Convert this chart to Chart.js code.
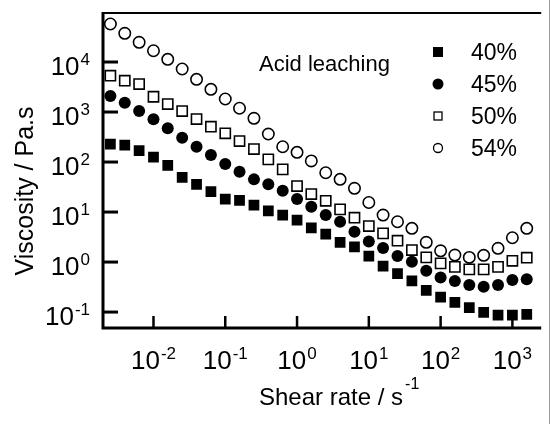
<!DOCTYPE html>
<html lang="en">
<head>
  <meta charset="UTF-8">
  <title>Viscosity vs shear rate</title>
  <script src="https://cdn.jsdelivr.net/npm/chart.js"></script>
  <style>
    html, body { margin: 0; padding: 0; background: #fff; }
    #wrap { width: 550px; height: 424px; }
  </style>
</head>
<body>
  <div id="wrap"><canvas id="viscChart" width="550" height="424"></canvas></div>
  <script>
    // shear rate, 5 points per decade (1/s)
    const shearRate = [0.00251, 0.00398, 0.00631, 0.01, 0.0158, 0.0251, 0.0398, 0.0631, 0.1, 0.158,
      0.251, 0.398, 0.631, 1, 1.58, 2.51, 3.98, 6.31, 10, 15.8,
      25.1, 39.8, 63.1, 100, 158, 251, 398, 631, 1000, 1585];

    // viscosity (Pa.s) per acid leaching level
    const visc40 = [229, 219, 170, 126, 86, 49.4, 35.8, 25.5, 18.2, 17.1,
      13.8, 10.5, 8.7, 6.9, 4.85, 3.63, 2.48, 2.02, 1.32, 0.83,
      0.59, 0.42, 0.27, 0.2, 0.156, 0.122, 0.099, 0.087, 0.087, 0.09];
    const visc45 = [2090, 1535, 1047, 714, 472, 306, 202, 138, 91, 64,
      45, 35.8, 26.7, 18.2, 12.8, 8.7, 6.4, 4.04, 2.57, 1.9,
      1.32, 1.01, 0.67, 0.49, 0.417, 0.347, 0.321, 0.347, 0.437, 0.451];
    const visc50 = [5320, 4230, 3630, 2020, 1445, 1047, 724, 508, 375, 263,
      182, 113, 71.4, 33.1, 22.9, 16.8, 11.3, 7.7, 5.25, 3.75,
      2.67, 1.74, 1.24, 0.94, 0.8, 0.715, 0.715, 0.8, 1.06, 1.22];
    const visc54 = [57500, 37500, 24800, 16800, 11300, 7240, 4500, 2840, 1820, 1190,
      748, 363, 202, 156, 105, 61, 45, 29.8, 15.5, 8.7,
      6.4, 4.72, 2.48, 1.68, 1.38, 1.24, 1.36, 1.88, 3.06, 4.72];

    const seriesLabels = ['40%', '45%', '50%', '54%'];
    const xTicks = [0.01, 0.1, 1, 10, 100, 1000];
    const yTicks = [0.1, 1, 10, 100, 1000, 10000];

    const FONT = '"Liberation Sans", Arial, sans-serif';

    function pts(ys) {
      return shearRate.map((x, i) => ({ x: x, y: ys[i] }));
    }

    // "10" with a raised exponent; align = 'right' | 'center'
    function drawPow(ctx, exp, x, y, align) {
      ctx.font = '26px ' + FONT;
      const wb = ctx.measureText('10').width;
      ctx.font = '17px ' + FONT;
      const we = ctx.measureText(exp).width;
      const total = wb + we + 1;
      let left = align === 'right' ? x - total : x - total / 2;
      ctx.textAlign = 'left';
      ctx.textBaseline = 'alphabetic';
      ctx.font = '26px ' + FONT;
      ctx.fillText('10', left, y);
      ctx.font = '17px ' + FONT;
      ctx.fillText(exp, left + wb + 1, y - 10);
    }

    const framePlugin = {
      id: 'frame',
      afterDraw(chart) {
        const ctx = chart.ctx;
        const a = chart.chartArea;
        const xs = chart.scales.x;
        const ys = chart.scales.y;
        ctx.save();
        ctx.fillStyle = '#000';
        ctx.strokeStyle = '#000';

        // top border and thin right edge
        ctx.lineWidth = 2;
        ctx.beginPath();
        ctx.moveTo(a.left, a.top);
        ctx.lineTo(a.right, a.top);
        ctx.stroke();
        ctx.strokeStyle = '#999';
        ctx.lineWidth = 1;
        ctx.beginPath();
        ctx.moveTo(549.5, 0);
        ctx.lineTo(549.5, 424);
        ctx.stroke();

        // left and bottom axes
        ctx.strokeStyle = '#000';
        ctx.lineWidth = 3;
        ctx.beginPath();
        ctx.moveTo(a.left, a.top - 1);
        ctx.lineTo(a.left, a.bottom);
        ctx.lineTo(a.right, a.bottom);
        ctx.stroke();

        // inward ticks
        ctx.lineWidth = 3;
        yTicks.forEach(v => {
          const py = ys.getPixelForValue(v);
          ctx.beginPath();
          ctx.moveTo(a.left, py);
          ctx.lineTo(a.left + 15, py);
          ctx.stroke();
          drawPow(ctx, String(Math.round(Math.log10(v))), a.left - 13, py + 13, 'right');
        });
        ctx.lineWidth = 2.5;
        xTicks.forEach(v => {
          const px = xs.getPixelForValue(v);
          ctx.beginPath();
          ctx.moveTo(px, a.bottom);
          ctx.lineTo(px, a.bottom - 12);
          ctx.stroke();
          drawPow(ctx, String(Math.round(Math.log10(v))), px, a.bottom + 41, 'center');
        });

        // axis titles
        ctx.textAlign = 'left';
        ctx.font = '24px ' + FONT;
        const t1 = 'Shear rate / s';
        ctx.fillText(t1, 259, 405);
        const w1 = ctx.measureText(t1).width;
        ctx.font = '16px ' + FONT;
        ctx.fillText('-1', 259 + w1 + 2, 389);

        ctx.save();
        ctx.translate(33, 191);
        ctx.rotate(-Math.PI / 2);
        ctx.textAlign = 'center';
        ctx.font = '25px ' + FONT;
        ctx.fillText('Viscosity / Pa.s', 0, 0);
        ctx.restore();

        // annotation
        ctx.textAlign = 'left';
        ctx.font = '22px ' + FONT;
        ctx.fillText('Acid leaching', 259, 71);

        // legend
        const rows = [52, 84, 116, 148];
        const mx = 438;
        ctx.lineWidth = 1.3;
        // 40% filled square
        ctx.fillRect(mx - 5, rows[0] - 5, 10, 10);
        // 45% filled circle
        ctx.beginPath();
        ctx.arc(mx, rows[1], 5.5, 0, Math.PI * 2);
        ctx.fill();
        // 50% open square
        ctx.strokeRect(mx - 4, rows[2] - 4, 8, 8);
        // 54% open circle
        ctx.beginPath();
        ctx.arc(mx, rows[3], 4.5, 0, Math.PI * 2);
        ctx.stroke();
        ctx.font = '23px ' + FONT;
        seriesLabels.forEach((s, i) => ctx.fillText(s, 471, rows[i] + 8));

        ctx.restore();
      }
    };

    const ctx = document.getElementById('viscChart').getContext('2d');
    new Chart(ctx, {
      type: 'scatter',
      data: {
        datasets: [
          { label: seriesLabels[0], data: pts(visc40), pointStyle: 'rect', pointRadius: 7.6,
            backgroundColor: '#000', borderColor: '#000', borderWidth: 0 },
          { label: seriesLabels[1], data: pts(visc45), pointStyle: 'circle', pointRadius: 6,
            backgroundColor: '#000', borderColor: '#000', borderWidth: 0 },
          { label: seriesLabels[2], data: pts(visc50), pointStyle: 'rect', pointRadius: 7.2,
            backgroundColor: '#fff', borderColor: '#000', borderWidth: 1.6 },
          { label: seriesLabels[3], data: pts(visc54), pointStyle: 'circle', pointRadius: 5.7,
            backgroundColor: '#fff', borderColor: '#000', borderWidth: 1.6 }
        ]
      },
      options: {
        responsive: false,
        animation: false,
        devicePixelRatio: 1,
        layout: { padding: { left: 103, top: 13, right: 5, bottom: 96 } },
        plugins: { legend: { display: false }, tooltip: { enabled: false } },
        elements: { point: { hoverRadius: 0 } },
        scales: {
          x: { type: 'logarithmic', display: false, min: 0.00198, max: 2520 },
          y: { type: 'logarithmic', display: false, min: 0.048, max: 95500 }
        }
      },
      plugins: [framePlugin]
    });
  </script>
</body>
</html>
